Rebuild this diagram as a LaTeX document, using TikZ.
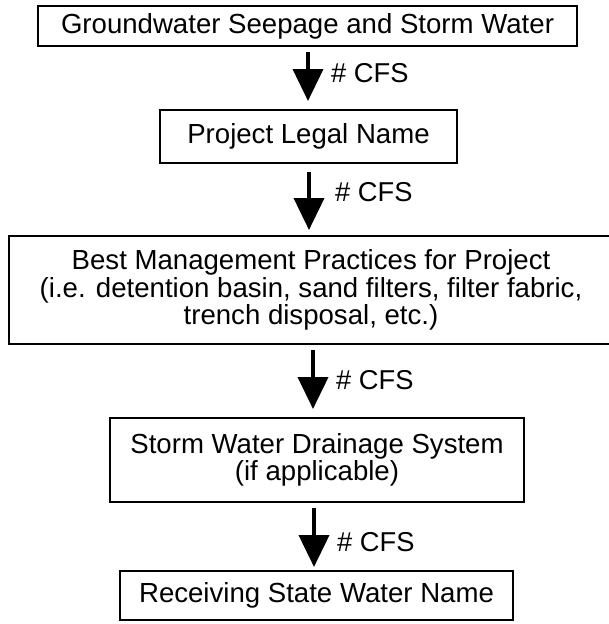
\documentclass[tikz,border=0pt]{standalone}
\usepackage{fontspec}
\setmainfont{Liberation Sans}
\usetikzlibrary{arrows.meta}
\begin{document}
\begin{tikzpicture}[x=1pt,y=-1pt,
  boxnode/.style={draw=black, line width=1.6pt, inner sep=0pt, align=center,
    font=\fontsize{27.6}{27.6}\selectfont},
  flowarrow/.style={line width=4pt, -{Triangle[width=30pt,length=32pt]}},
  cfs/.style={anchor=west, inner sep=0pt, font=\fontsize{27.3}{27.5}\selectfont}]
\useasboundingbox (0,0) rectangle (608,624);
\node[boxnode, line width=2pt, minimum width=539pt, minimum height=40pt] (b1) at (307.5,26) {Groundwater Seepage and Storm Water};
\node[boxnode, minimum width=297pt, minimum height=53pt] (b2) at (308.5,136.5) {Project Legal Name};
\node[boxnode, minimum width=604pt, minimum height=108pt] (b3) at (311,290) {Best Management Practices for Project\\(i.e. detention basin, sand filters, filter fabric,\\trench disposal, etc.)};
\node[boxnode, minimum width=414pt, minimum height=84pt] (b4) at (317,460) {Storm Water Drainage System\\(if applicable)};
\node[boxnode, minimum width=393pt, minimum height=49pt] (b5) at (316.5,595.5) {Receiving State Water Name};
\coordinate (a1s) at (308,52);  \coordinate (a1e) at (308,101);
\coordinate (a2s) at (309,172); \coordinate (a2e) at (309,230);
\coordinate (a3s) at (313,350); \coordinate (a3e) at (313,409);
\coordinate (a4s) at (314,508); \coordinate (a4e) at (314,567);
\draw[flowarrow] (a1s) -- (a1e);
\draw[flowarrow] (a2s) -- (a2e);
\draw[flowarrow] (a3s) -- (a3e);
\draw[flowarrow] (a4s) -- (a4e);
\node[cfs] (l1) at (331,73) {\# CFS};
\node[cfs] (l2) at (335,192) {\# CFS};
\node[cfs] (l3) at (336,380) {\# CFS};
\node[cfs] (l4) at (337,542) {\# CFS};
\end{tikzpicture}
\end{document}
